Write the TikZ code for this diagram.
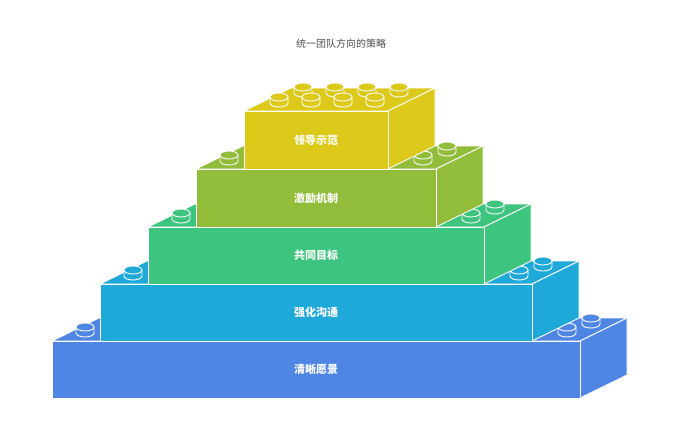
\documentclass[tikz,border=0pt]{standalone}
\usepackage{fontspec}
\newfontfamily\cjk{Noto Sans CJK SC}
\definecolor{cvision}{HTML}{4F86E4}
\definecolor{ccomm}{HTML}{1FA9D9}
\definecolor{cgoal}{HTML}{3DC47E}
\definecolor{cmotiv}{HTML}{92BD3A}
\definecolor{clead}{HTML}{DCC91A}
\tikzset{face/.style={draw=white,line width=0.9pt,line join=round}}
\tikzset{lbl/.style={text=white,font=\cjk\bfseries\fontsize{11}{13}\selectfont}}
% stud: centre of top ellipse, colour
\newcommand{\stud}[3]{%
  \filldraw[face,fill=#3] ({#1-9},{#2}) -- ({#1-9},{#2+6}) arc[start angle=180,end angle=0,x radius=9,y radius=4] -- ({#1+9},{#2}) -- cycle;
  \filldraw[face,fill=#3] (#1,#2) ellipse[x radius=9,y radius=4];}
% brick: left, top, right, bottom of front face, colour, name, label
\newcommand{\brick}[7]{%
  \filldraw[face,fill=#5] (#1,#2) -- ({#1+47},{#2-23}) -- ({#3+47},{#2-23}) -- (#3,#2) -- cycle;
  \filldraw[face,fill=#5] (#3,#2) -- ({#3+47},{#2-23}) -- ({#3+47},{#4-23}) -- (#3,#4) -- cycle;
  \filldraw[face,fill=#5] (#1,#2) rectangle (#3,#4);
  \node[lbl] (#6) at ({(#1+#3)/2},{(#2+#4)/2}) {#7};}
\begin{document}
\begin{tikzpicture}[x=1pt,y=-1pt]
  \useasboundingbox (0,0) rectangle (682,442);
  \node[font=\cjk\fontsize{10}{12}\selectfont,text=black!70] (title) at (341,44) {统一团队方向的策略};

  \brick{52}{341}{580}{398}{cvision}{vision}{清晰愿景}
  \stud{85}{327}{cvision}
  \stud{591}{318}{cvision}
  \stud{567}{327}{cvision}

  \brick{100}{284}{532}{341}{ccomm}{comm}{强化沟通}
  \stud{133}{270}{ccomm}
  \stud{543}{261}{ccomm}
  \stud{519}{270}{ccomm}

  \brick{148}{227}{484}{284}{cgoal}{goal}{共同目标}
  \stud{181}{213}{cgoal}
  \stud{495}{204}{cgoal}
  \stud{471}{213}{cgoal}

  \brick{196}{169}{436}{227}{cmotiv}{motiv}{激励机制}
  \stud{229}{155}{cmotiv}
  \stud{447}{146}{cmotiv}
  \stud{423}{155}{cmotiv}

  \brick{244}{111}{388}{169}{clead}{lead}{领导示范}
  \foreach \sx in {303,335,367,399} {\stud{\sx}{87}{clead}}
  \foreach \sx in {279,311,343,375} {\stud{\sx}{97}{clead}}
\end{tikzpicture}
\end{document}
